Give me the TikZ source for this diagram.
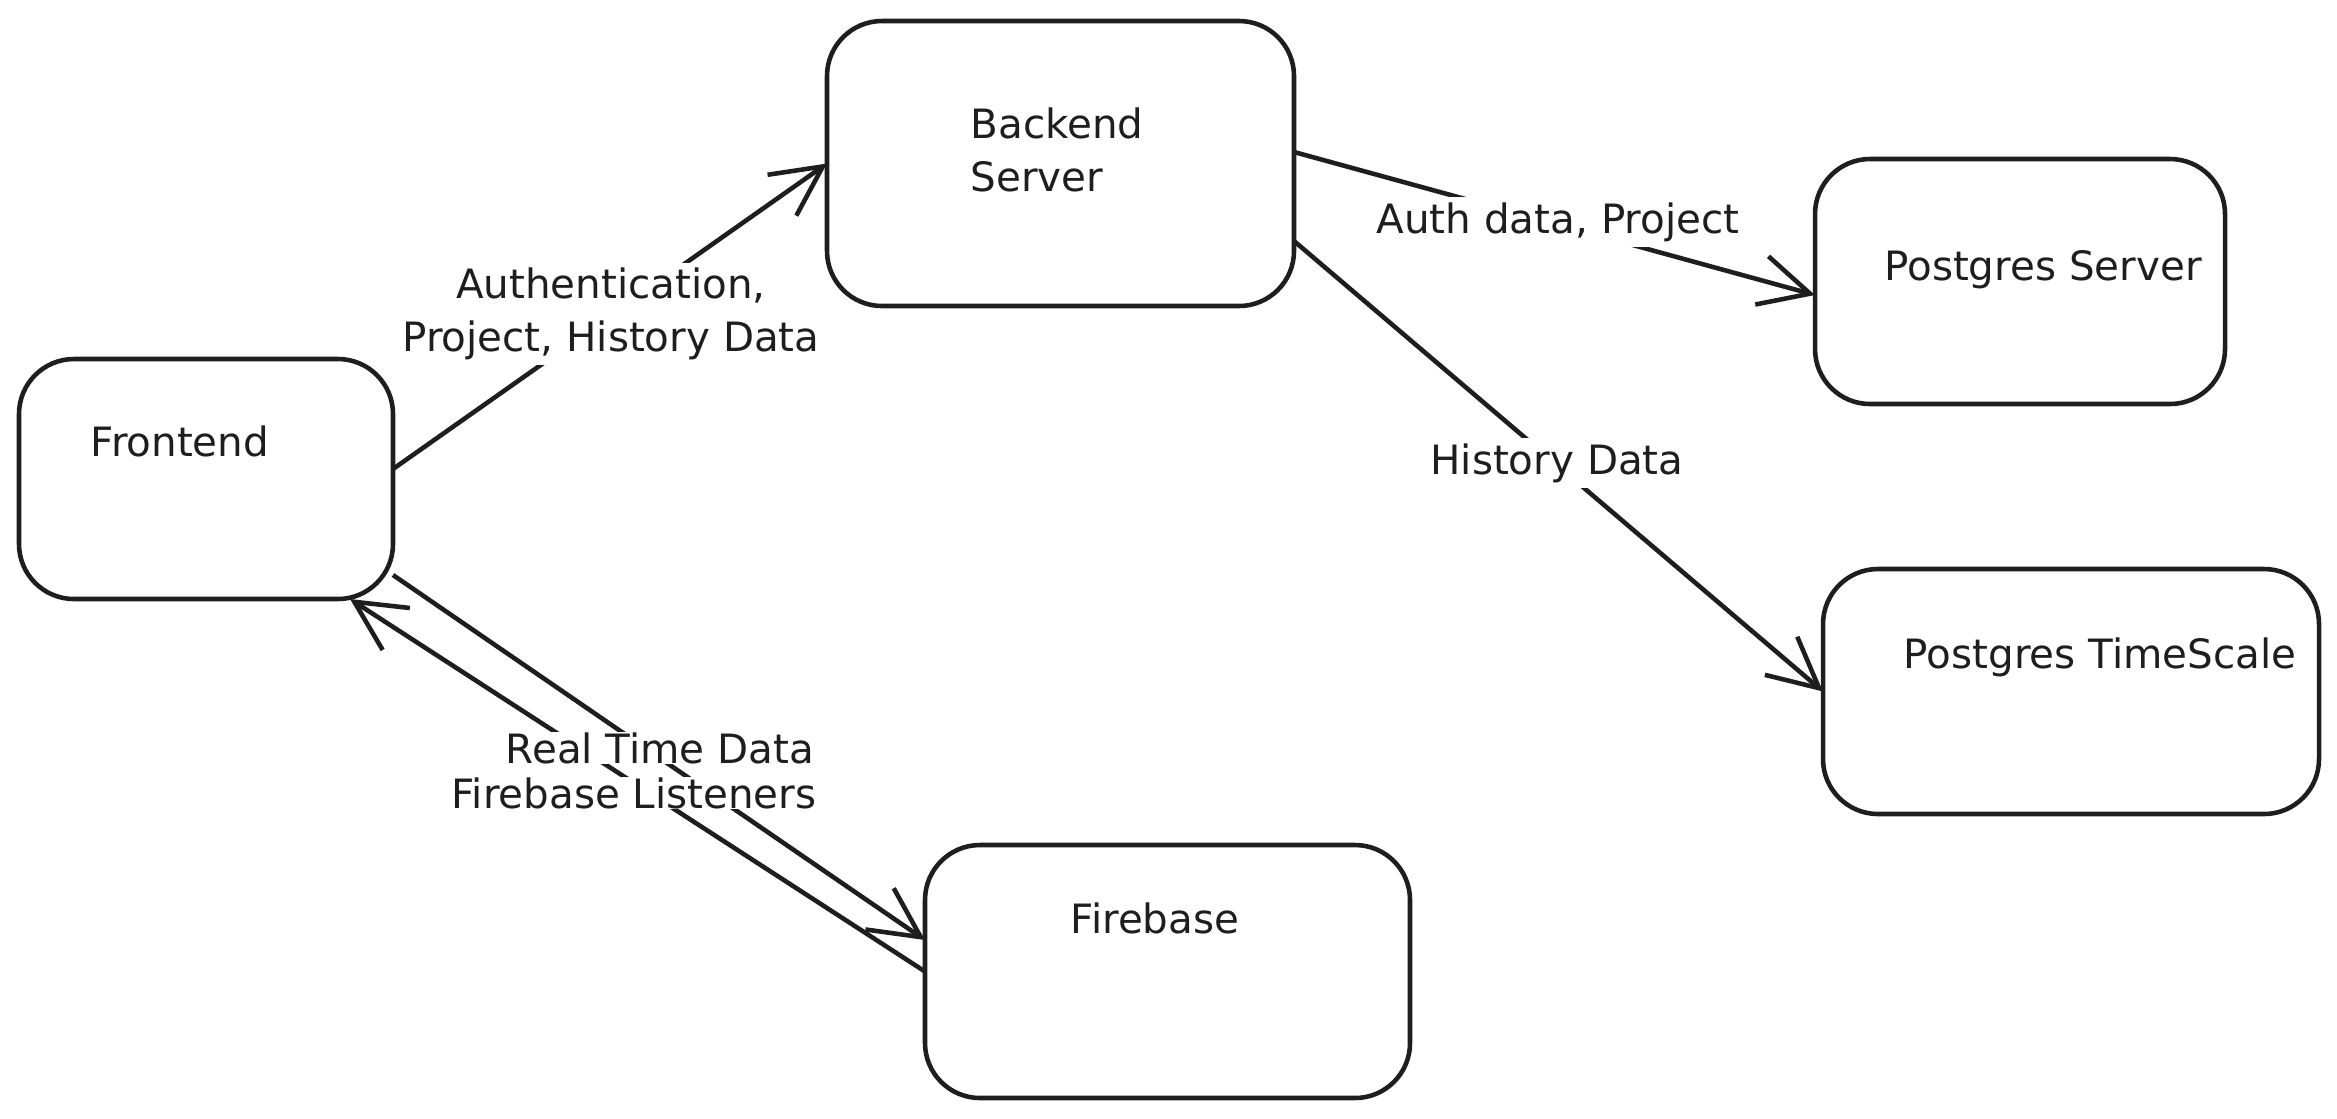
\documentclass[tikz,border=0pt]{standalone}
\usepackage{fontspec}
\setmainfont{DejaVu Sans}
\usetikzlibrary{arrows.meta}
\definecolor{ink}{HTML}{1E1E1E}
\tikzset{
  box/.style={draw=ink, line width=1.3pt, rounded corners=5.5mm, inner sep=0pt, outer sep=0pt},
  txt/.style={text=ink, font=\fontsize{11.5}{15}\selectfont, inner sep=0pt},
  lbl/.style={text=ink, font=\fontsize{11.5}{15}\selectfont, fill=white, inner sep=1.5pt, align=center},
  conn/.style={draw=ink, line width=1.3pt, -{Straight Barb[length=5mm,width=5mm,line width=1.3pt]}}
}
\begin{document}
\begin{tikzpicture}[x=0.1mm,y=-0.1mm]
\useasboundingbox (0,0) rectangle (2337,1118);
% boxes
\node[box, minimum width=46.7mm, minimum height=28.5mm] (be) at (1060.5,163.5) {};
\node[box, minimum width=41mm, minimum height=24.5mm] (ps) at (2020,281.5) {};
\node[box, minimum width=37.4mm, minimum height=24mm] (fe) at (206,479) {};
\node[box, minimum width=49.6mm, minimum height=24.5mm] (ts) at (2071,691.5) {};
\node[box, minimum width=48.5mm, minimum height=25.3mm] (fb) at (1167.5,971.5) {};
% box texts
\node[txt, anchor=west, align=left] (tbe) at (970,150) {Backend\\Server};
\node[txt] (tps) at (2043,270) {Postgres Server};
\node[txt, anchor=west] (tfe) at (90,441) {Frontend};
\node[txt] (tts) at (2100,657) {Postgres TimeScale};
\node[txt] (tfb) at (1155,918) {Firebase};
% connectors
\draw[conn] ([yshift=1mm]fe.east) -- (be.west);
\draw[conn] ([yshift=1.15mm]be.east) -- ([yshift=-1.35mm]ps.west);
\draw[conn] ([yshift=-7.75mm]be.east) -- (ts.west);
\draw[conn] ([yshift=-9.6mm]fe.east) -- ([yshift=3.15mm]fb.west);
\draw[conn] (fb.west) -- ([xshift=14.4mm]fe.south);
% labels
\node[lbl] (l1) at (611,314) {Authentication,\\Project, History Data};
\node[lbl] (l2) at (1558,222) {Auth data, Project};
\node[lbl] (l3) at (1557,463) {History Data};
\node[lbl, inner sep=0pt] (l5) at (634,793) {Firebase Listeners};
\node[lbl, inner sep=0pt] (l4) at (660,748) {Real Time Data};
\end{tikzpicture}
\end{document}
